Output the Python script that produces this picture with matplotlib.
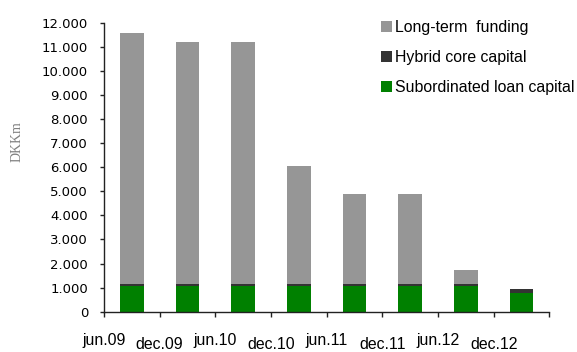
import matplotlib
matplotlib.use("Agg")
import matplotlib.pyplot as plt
from matplotlib.ticker import FixedLocator, FuncFormatter

# Funding structure by reporting date (DKKm)
periods = ["jun.09", "dec.09", "jun.10", "dec.10", "jun.11", "dec.11", "jun.12", "dec.12"]
subordinated = [1070, 1070, 1070, 1070, 1070, 1070, 1070, 770]
hybrid_core = [80, 80, 80, 80, 80, 80, 80, 170]
long_term = [10425, 10050, 10050, 4900, 3740, 3740, 580, 0]

series_names = ["Long-term  funding", "Hybrid core capital", "Subordinated loan capital"]
colors = {"long": "#969696", "hybrid": "#333333", "sub": "#008000"}

W, H = 577, 352
fig = plt.figure(figsize=(W / 100, H / 100), dpi=100)
ax = fig.add_axes([104 / W, 1 - 311.7 / H, 445.3 / W, 289 / H])

x = [i + 0.5 for i in range(len(periods))]
bw = 0.43
b_sub = ax.bar(x, subordinated, bw, color=colors["sub"], linewidth=0)
b_hyb = ax.bar(x, hybrid_core, bw, bottom=subordinated, color=colors["hybrid"], linewidth=0)
base2 = [a + b for a, b in zip(subordinated, hybrid_core)]
b_lt = ax.bar(x, long_term, bw, bottom=base2, color=colors["long"], linewidth=0)

ax.set_xlim(0, len(periods))
ax.set_ylim(0, 12000)

for s in ("top", "right"):
    ax.spines[s].set_visible(False)
for s in ("left", "bottom"):
    ax.spines[s].set_color("#222222")
    ax.spines[s].set_linewidth(1.0)

# y axis
ax.yaxis.set_major_locator(FixedLocator(range(0, 12001, 1000)))
ax.yaxis.set_major_formatter(FuncFormatter(lambda v, p: f"{v:,.0f}".replace(",", ".")))
ax.tick_params(axis="y", direction="out", length=3.2, width=1.0, color="#222222",
               pad=8.3, labelsize=9.5)
for lab in ax.get_yticklabels():
    lab.set_fontfamily("DejaVu Sans")

# x axis: period labels sit on the boundary ticks, alternating height
jun_pos = list(range(0, len(periods) + 1, 2))
dec_pos = list(range(1, len(periods), 2))
ax.set_xticks(jun_pos)
ax.set_xticklabels([periods[i] if i < len(periods) else "" for i in jun_pos],
                   fontfamily="Liberation Sans", fontsize=11.4)
ax.set_xticks(dec_pos, minor=True)
ax.set_xticklabels([periods[i] for i in dec_pos], minor=True,
                   fontfamily="Liberation Sans", fontsize=11.4)
ax.tick_params(axis="x", which="major", direction="out", length=3.5, width=1.0,
               color="#222222", pad=12)
ax.tick_params(axis="x", which="minor", direction="out", length=3.5, width=1.0,
               color="#222222", pad=14.5)

fig.text(17.5 / W, 1 - 142 / H, "DKKm", rotation=90, ha="center", va="center",
         fontfamily="Liberation Serif", fontsize=10, color="#808080")

fig.legend([b_lt, b_hyb, b_sub], series_names, loc="upper left",
           bbox_to_anchor=(381.3 / W, 1 - 20 / H), frameon=False,
           borderpad=0, borderaxespad=0, handlelength=0.66, handleheight=0.66,
           handletextpad=0.2, labelspacing=0.95,
           prop={"family": "Liberation Sans", "size": 11.4})

fig.savefig("out.png", dpi=100)
